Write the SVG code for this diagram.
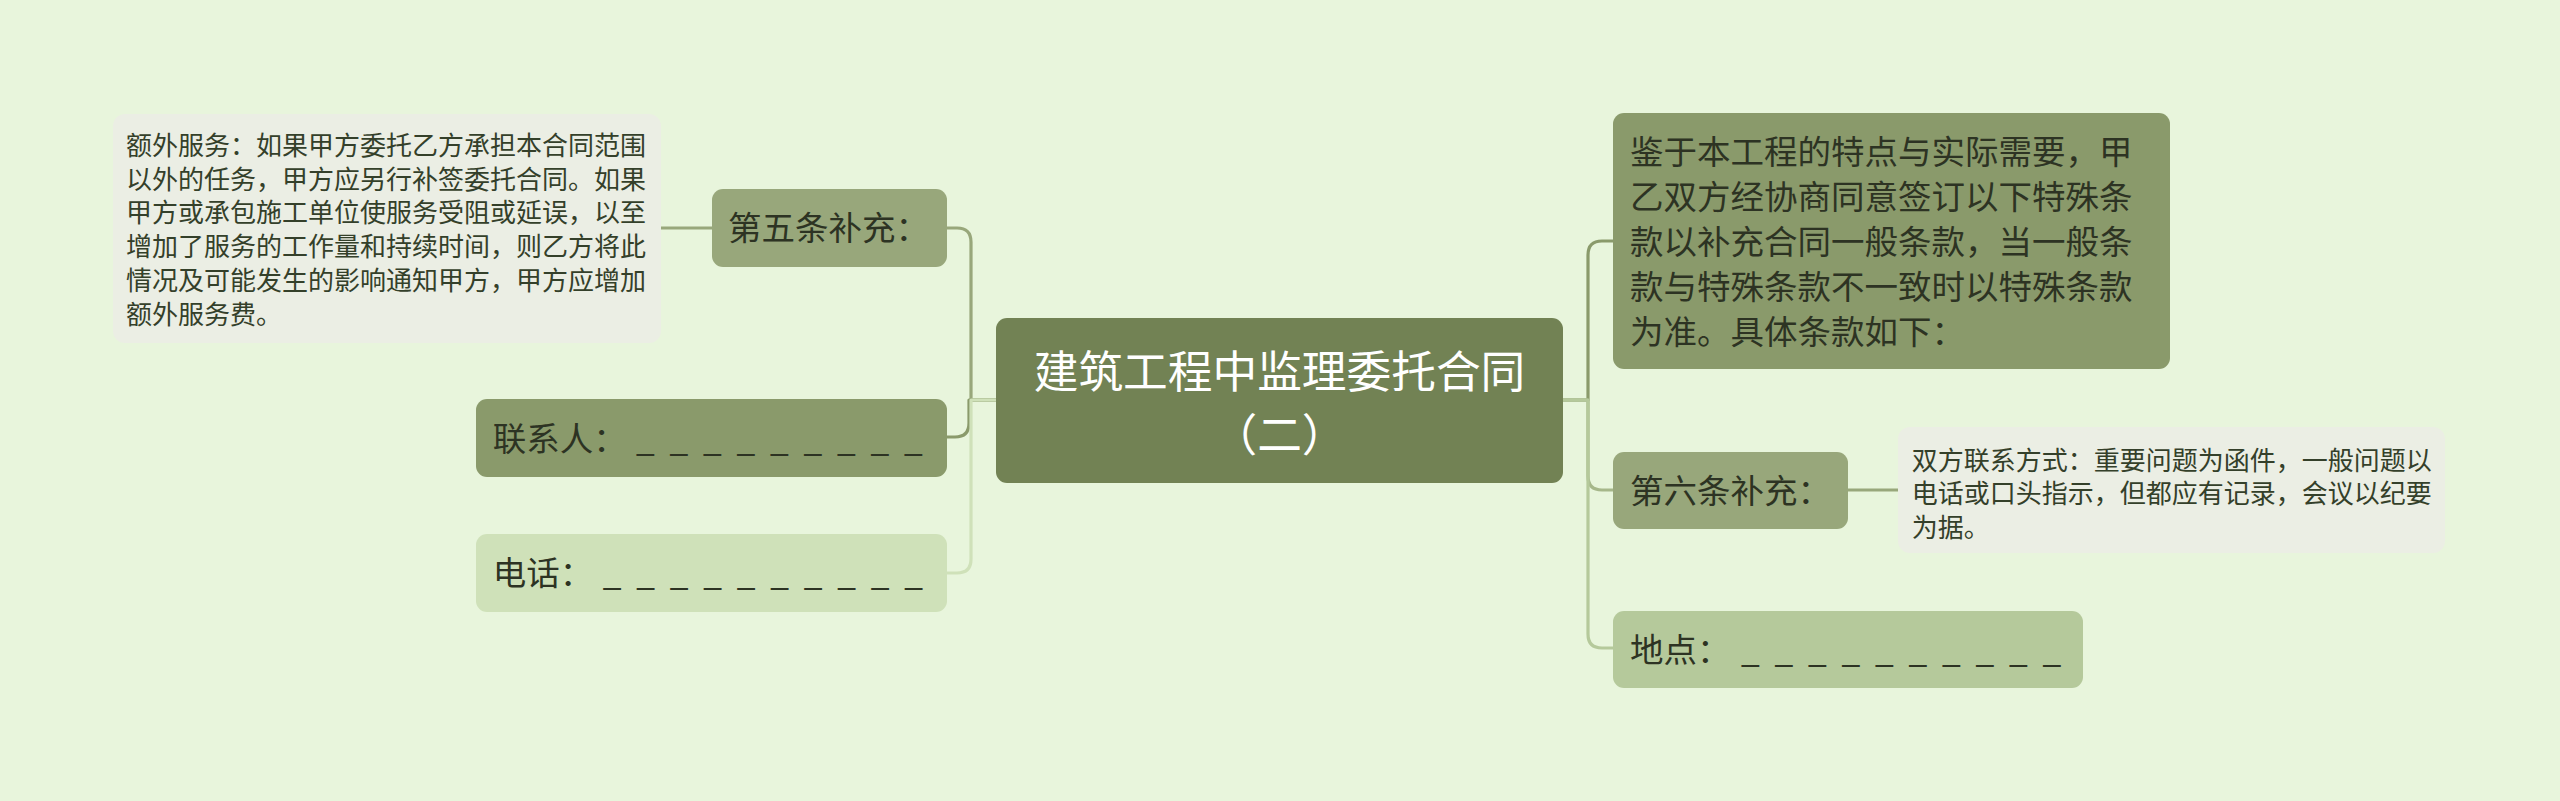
<svg xmlns="http://www.w3.org/2000/svg" width="2560" height="801" viewBox="0 0 2560 801">
<style>
text{font-family:"Noto Sans CJK SC","Noto Sans",sans-serif}
.t{font-size:33.5px;fill:#2d3323}
.n{font-size:26px;fill:#34402a}
.title{font-size:44.7px;fill:#ffffff;text-anchor:middle}
.c{fill:none;stroke-width:3.2;stroke-linecap:round;stroke-linejoin:round}
</style>
<rect width="2560" height="801" fill="#e8f5dc"/>
<g id="connectors">
<path class="c" stroke="#98a77b" d="M996,400 H971 V242 Q971,228 957,228 H947"/>
<path class="c" stroke="#8a9a6b" d="M996,400 H969 V423 Q969,437 955,437 H947"/>
<path class="c" stroke="#cfe1b9" d="M996,400 H971 V559 Q971,573 957,573 H947"/>
<path class="c" stroke="#98a77b" d="M712,228 H661"/>
<path class="c" stroke="#8a9a6b" d="M1563,400 H1588 V255 Q1588,241 1602,241 H1613"/>
<path class="c" stroke="#a6b78a" d="M1563,400 H1588 V476 Q1588,490 1602,490 H1613"/>
<path class="c" stroke="#b5c99b" d="M1563,400 H1588 V634 Q1588,648 1602,648 H1613"/>
<path class="c" stroke="#98a77b" d="M1848,490 H1898"/>
</g>
<g id="root">
<rect x="996" y="318" width="567" height="165" rx="11" fill="#728254"/>
<text class="title" x="1279.5" y="387.8">建筑工程中监理委托合同</text>
<text class="title" x="1279.5" y="450.8">（二）</text>
</g>
<g id="node-5">
<rect x="712" y="189" width="235" height="78" rx="11" fill="#98a77b"/>
<text class="t" x="728" y="239.7">第五条补充：</text>
</g>
<g id="note-5">
<rect x="113" y="114" width="548" height="229" rx="12" fill="#ebeee4"/>
<text class="n" x="126" y="155">额外服务：如果甲方委托乙方承担本合同范围</text>
<text class="n" x="126" y="188.7">以外的任务，甲方应另行补签委托合同。如果</text>
<text class="n" x="126" y="222.4">甲方或承包施工单位使服务受阻或延误，以至</text>
<text class="n" x="126" y="256.1">增加了服务的工作量和持续时间，则乙方将此</text>
<text class="n" x="126" y="289.8">情况及可能发生的影响通知甲方，甲方应增加</text>
<text class="n" x="126" y="323.5">额外服务费。</text>
</g>
<g id="node-contact">
<rect x="476" y="399" width="471" height="78" rx="11" fill="#8a9a6b"/>
<text class="t" x="492.7" y="450.7">联系人：<tspan x="636 652.7 669.5 686.2 703 719.7 736.5 753.2 770 786.7 803.5 820.2 837 853.7 870.5 887.2 904">_ _ _ _ _ _ _ _ _</tspan></text>
</g>
<g id="node-phone">
<rect x="476" y="534" width="471" height="78" rx="11" fill="#cfe1b9"/>
<text class="t" x="492.7" y="585.2">电话：<tspan x="602.7 619.5 636.2 653 669.7 686.5 703.2 720 736.7 753.5 770.2 787 803.7 820.5 837.2 854 870.7 887.5 904.2">_ _ _ _ _ _ _ _ _ _</tspan></text>
</g>
<g id="node-intro">
<rect x="1613" y="113" width="557" height="256" rx="11" fill="#8a9a6b"/>
<text class="t" x="1630" y="164.4">鉴于本工程的特点与实际需要，甲</text>
<text class="t" x="1630" y="209.4">乙双方经协商同意签订以下特殊条</text>
<text class="t" x="1630" y="254.4">款以补充合同一般条款，当一般条</text>
<text class="t" x="1630" y="299.4">款与特殊条款不一致时以特殊条款</text>
<text class="t" x="1630" y="344.4">为准。具体条款如下：</text>
</g>
<g id="node-6">
<rect x="1613" y="452" width="235" height="77" rx="11" fill="#98a77b"/>
<text class="t" x="1630" y="502.7">第六条补充：</text>
</g>
<g id="note-6">
<rect x="1898" y="427" width="547" height="126" rx="12" fill="#ebeee4"/>
<text class="n" x="1911.7" y="470">双方联系方式：重要问题为函件，一般问题以</text>
<text class="n" x="1911.7" y="503.3">电话或口头指示，但都应有记录，会议以纪要</text>
<text class="n" x="1911.7" y="536.7">为据。</text>
</g>
<g id="node-place">
<rect x="1613" y="611" width="470" height="77" rx="11" fill="#b5c99b"/>
<text class="t" x="1630" y="661.7">地点：<tspan x="1741 1757.7 1774.5 1791.2 1808 1824.7 1841.5 1858.2 1875 1891.7 1908.5 1925.2 1942 1958.7 1975.5 1992.2 2009 2025.7 2042.5">_ _ _ _ _ _ _ _ _ _</tspan></text>
</g>
</svg>
